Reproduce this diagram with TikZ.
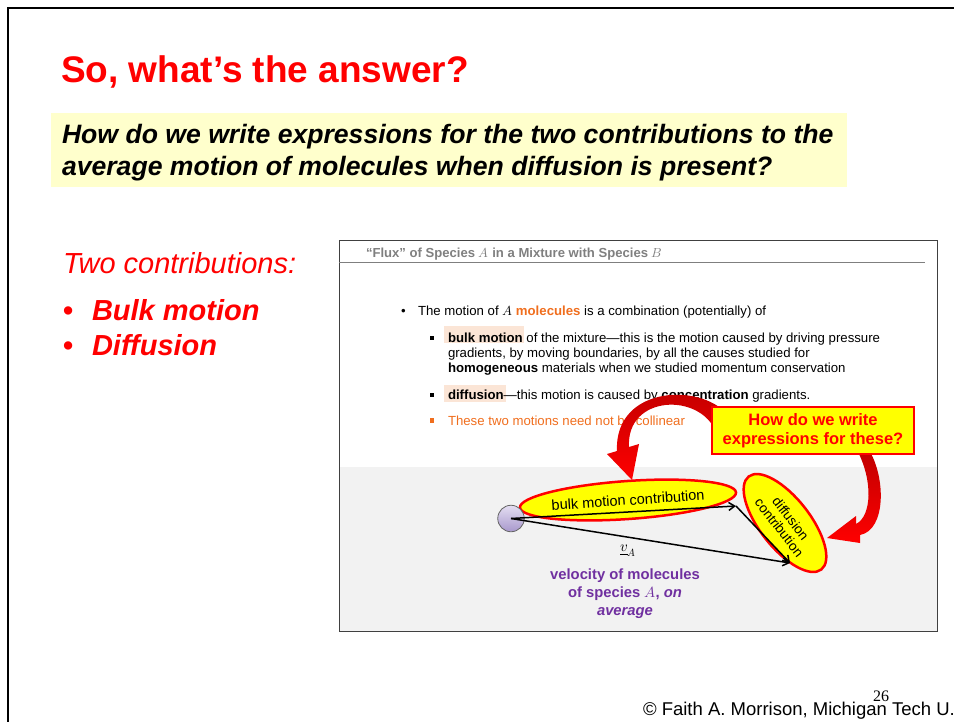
\documentclass[tikz,border=0pt]{standalone}
\usepackage{fontspec}
\usepackage{unicode-math}
\setmainfont{Liberation Sans}
\newfontfamily\numfont{Liberation Serif}
\usetikzlibrary{shapes.geometric,arrows.meta}

\definecolor{qbg}{RGB}{255,255,204}
\definecolor{panelgray}{RGB}{242,242,242}
\definecolor{hdrgray}{RGB}{127,127,127}
\definecolor{accent}{RGB}{240,110,30}
\definecolor{peach}{RGB}{251,229,214}
\definecolor{violet}{RGB}{112,48,160}
\definecolor{darkred}{RGB}{192,0,0}
\definecolor{hlyellow}{RGB}{255,255,0}
\definecolor{lavtop}{RGB}{228,222,242}
\definecolor{lavbot}{RGB}{168,152,204}

\newcommand\fsz[2]{\fontsize{#1}{#2}\selectfont}

\begin{document}
\begin{tikzpicture}[x=1pt,y=-1pt,
  lbl/.style={inner sep=0pt,outer sep=0pt,anchor=base west},
  body/.style={lbl,font=\fsz{13.2}{16}},
  sqbullet/.style={fill=#1,minimum size=4.2pt,inner sep=0pt},
  blob/.style={ellipse,draw=red,line width=2.5pt,fill=hlyellow,inner sep=0pt},
  vec/.style={line width=1.5pt,-{Straight Barb[length=6pt,width=8pt]}},
  bigarrow/.style={top color=darkred,bottom color=red}
]
\useasboundingbox (0,0) rectangle (954,721);

% slide frame
\draw[line width=2.7pt] (8,730) -- (8,8) -- (960,8);

% title and question
\node[lbl,text=red] (title) at (61,82) {\fsz{37}{40}\bfseries So, what’s the answer?};
\node[fill=qbg,minimum width=796pt,minimum height=74pt,inner sep=0pt,anchor=north west] (qbox) at (51,113) {};
\node[lbl] (q1) at (62,143) {\fsz{26.6}{32}\bfseries\itshape How do we write expressions for the two contributions to the};
\node[lbl] (q2) at (62,175) {\fsz{26.6}{32}\bfseries\itshape average motion of molecules when diffusion is present?};

% left column
\node[lbl,text=red] (two) at (63,273) {\fsz{29}{32}\itshape Two contributions:};
\node[lbl,text=red] (b1) at (63,320) {\fsz{29}{32}\bfseries •};
\node[lbl,text=red] (t1) at (92,320) {\fsz{29}{32}\bfseries\itshape Bulk motion};
\node[lbl,text=red] (b2) at (63,355) {\fsz{29}{32}\bfseries •};
\node[lbl,text=red] (t2) at (92,355) {\fsz{29}{32}\bfseries\itshape Diffusion};

% embedded panel
\fill[panelgray] (340,467) rectangle (937,631);
\node[draw=black!75,line width=1pt,minimum width=598pt,minimum height=391pt,inner sep=0pt,anchor=north west] (panel) at (339,240) {};
\draw[hdrgray,line width=1pt] (339,262) -- (925,262);
\node[lbl,text=hdrgray] (hdr) at (366,257) {\fsz{13.1}{15}\bfseries “Flux” of Species $A$ in a Mixture with Species $B$};

\fill[peach] (444,326) rectangle (524,343);
\fill[peach] (444,385) rectangle (506,402);

\node[body] (dot1) at (401,315) {•};
\node[body] (l1) at (418,315) {The motion of $A$ {\color{accent}\bfseries molecules} is a combination (potentially) of};
\node[sqbullet=black] (s1) at (432,338) {};
\node[body] (l2) at (448,342) {{\bfseries bulk motion} of the mixture—this is the motion caused by driving pressure};
\node[body] (l3) at (448,357) {gradients, by moving boundaries, by all the causes studied for};
\node[body] (l4) at (448,372) {{\bfseries homogeneous} materials when we studied momentum conservation};
\node[sqbullet=black] (s2) at (432,395) {};
\node[body] (l5) at (448,399) {{\bfseries diffusion}—this motion is caused by {\bfseries concentration} gradients.};
\node[sqbullet=accent] (s3) at (432,420.5) {};
\node[body,text=accent] (l6) at (448,425) {These two motions need not be collinear};

% curved call-out arrows
\shade[bigarrow] (730,418) .. controls (706,382) and (614,384) .. (617,451)
  -- (607,454) -- (632,480) -- (639,444) -- (629,447)
  .. controls (626,395) and (700,392) .. (716,432) -- cycle;
\shade[bigarrow] (857,450) -- (869,450) .. controls (886,478) and (886,530) .. (860,535)
  -- (860,543) -- (827,538) -- (856,516) -- (856,524)
  .. controls (872,516) and (873,480) .. (857,450) -- cycle;

\node[draw=red,line width=1.3pt,fill=hlyellow,minimum width=202pt,minimum height=47pt,inner sep=0pt,align=center,text=red,font=\fsz{16.5}{19}\bfseries] (ask) at (813,430.5) {How do we write\\expressions for these?};

% vector diagram
\node[blob,minimum width=186pt,minimum height=38pt,rotate=4] (bulk) at (628,500) {\fsz{14.5}{16}bulk motion contribution};
\node[blob,minimum width=118pt,minimum height=50pt,rotate=-52,align=center,font=\fsz{13.5}{14.5}] (diff) at (785,523) {diffusion\\contribution};
\node[circle,minimum size=26.5pt,inner sep=0pt,draw=black!60,line width=0.8pt,top color=lavtop,bottom color=lavbot] (mol) at (511,518.5) {};

\coordinate (btip) at (736,506);
\coordinate (dtip) at (790,563);
\draw[vec] (mol.center) -- (btip);
\draw[vec] (btip) -- (dtip);
\draw[vec] (mol.center) -- (dtip);

\node (va) at (628,551) {\fsz{15}{18}$\underline{v}_A$};
\node[align=center,text=violet,font=\fsz{14.8}{18}\bfseries] (vlab) at (625,594) {velocity of molecules\\of species $A$, \itshape on\\\itshape average};

% footer
\node[lbl] (foot) at (643,715) {\fsz{18.5}{20}© Faith A. Morrison, Michigan Tech U.};
\node[lbl] (pg) at (873,701) {\numfont\fsz{16}{18}26};
\end{tikzpicture}
\end{document}
